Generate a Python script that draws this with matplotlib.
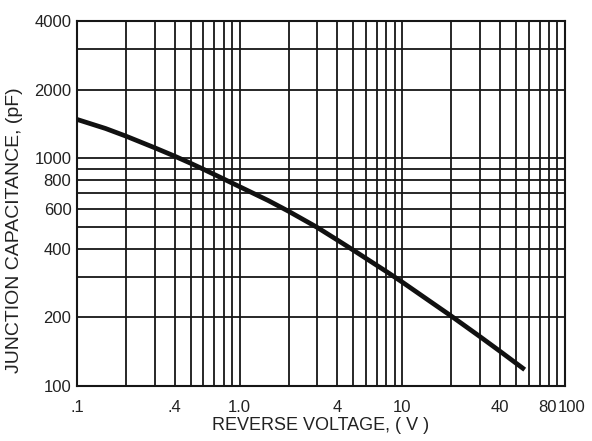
import matplotlib
matplotlib.use("Agg")
import matplotlib.pyplot as plt
import matplotlib.transforms as mtransforms
from matplotlib.ticker import FixedLocator, FixedFormatter, NullFormatter, NullLocator

plt.rcParams['font.family'] = ['Liberation Sans', 'DejaVu Sans']

# curve
voltage = [0.1, 0.15, 0.2, 0.3, 0.4, 0.5, 0.6, 0.7, 0.8, 1.0, 1.5, 2.0, 3.0, 4.0, 5.0,
           6.0, 8.0, 10.0, 15.0, 20.0, 30.0, 40.0, 56.7]
capacitance = [1480, 1350, 1250, 1112, 1020, 950, 894, 848, 810, 750, 652, 585, 497, 437, 395,
               363, 318, 286, 234, 203, 165, 142, 118]

x_ticks = [0.1, 0.4, 1.0, 4, 10, 40, 80, 100]
x_labels = ['.1', '.4', '1.0', '4', '10', '40', '80', '100']
x_nudge = [0, 0, 0, 0, 0, 0, -2, 7]   # px, "80" and "100" sit almost touching
y_ticks = [100, 200, 400, 600, 800, 1000, 2000, 4000]
y_labels = ['100', '200', '400', '600', '800', '1000', '2000', '4000']

x_grid = [m * d for d in (0.1, 1, 10) for m in range(1, 10)] + [100]
y_grid = [m * 100 for m in range(1, 10)] + [1000, 2000, 3000, 4000]

fig = plt.figure(figsize=(5.92, 4.41), dpi=100)
ax = fig.add_axes([0.130, 0.1247, 0.824, 0.8276])
ax.set_xscale('log')
ax.set_yscale('log')
ax.set_xlim(0.1, 100)
ax.set_ylim(100, 4000)

grid_col = '#161616'
for gx in x_grid:
    ax.axvline(gx, color=grid_col, lw=1.3, zorder=1)
for gy in y_grid:
    ax.axhline(gy, color=grid_col, lw=1.3, zorder=1)

ax.plot(voltage, capacitance, color='#111111', lw=3.4, solid_capstyle='butt',
        solid_joinstyle='round', zorder=3)

txt_col = '#222222'
ax.xaxis.set_major_locator(NullLocator())
ax.xaxis.set_minor_locator(NullLocator())
base = ax.get_xaxis_transform()
for xv, lab, dx in zip(x_ticks, x_labels, x_nudge):
    tr = base + mtransforms.ScaledTranslation(dx / 100, -14 / 100, fig.dpi_scale_trans)
    ax.text(xv, 0, lab, transform=tr, ha='center', va='top', fontsize=12, color=txt_col)

ax.yaxis.set_major_locator(FixedLocator(y_ticks))
ax.yaxis.set_major_formatter(FixedFormatter(y_labels))
ax.yaxis.set_minor_formatter(NullFormatter())
ax.yaxis.set_minor_locator(NullLocator())
ax.tick_params(which='both', length=0, labelsize=12, colors=txt_col)
ax.tick_params(axis='y', pad=4)

for s in ax.spines.values():
    s.set_color(grid_col)
    s.set_linewidth(1.5)

fig.text(0.5 * (0.130 + 0.954), 1 - 425 / 441, 'REVERSE VOLTAGE, ( V )', ha='center',
         va='center', fontsize=13, color=txt_col)
fig.text(15 / 592, 1 - 230 / 441, 'JUNCTION CAPACITANCE, (pF)', ha='center', va='center',
         rotation=90, fontsize=14, color=txt_col)

fig.savefig('out.png', dpi=100)
